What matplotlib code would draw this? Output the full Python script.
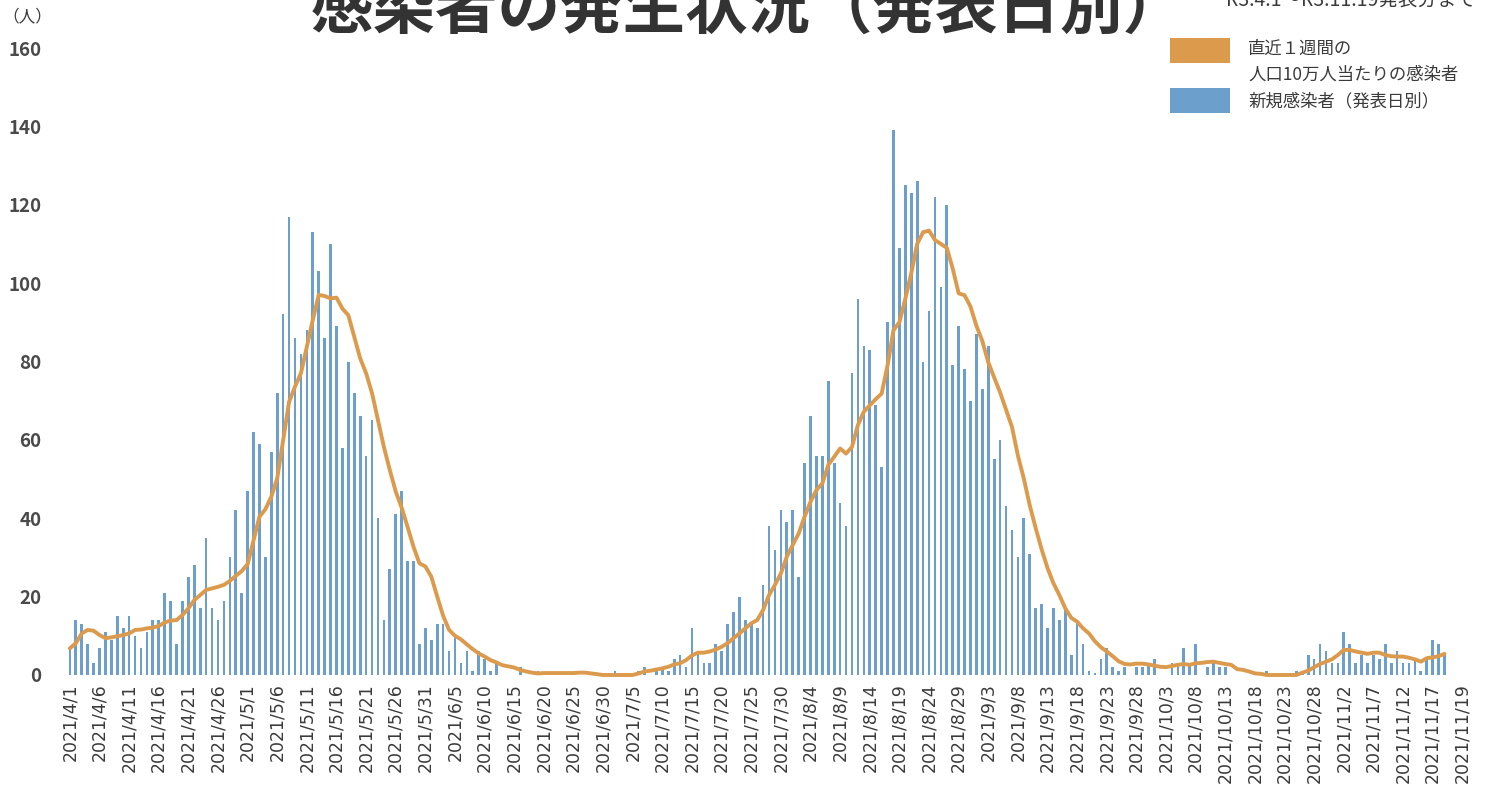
import numpy as np
import pandas as pd
import matplotlib
matplotlib.use("Agg")
import matplotlib.pyplot as plt
from matplotlib.patches import Rectangle

plt.rcParams['font.family'] = ['Noto Sans CJK JP', 'DejaVu Sans']

# Announcement dates, 2021/4/1 .. 2021/11/19
dates = pd.date_range("2021-04-01", "2021-11-19", freq="D")
date_labels = ["{}/{}/{}".format(d.year, d.month, d.day) for d in dates]

# New cases per announcement day
new_cases = [
    7, 14, 13, 8, 3, 7, 11, 9, 15, 12,
    15, 10, 7, 11, 14, 14, 21, 19, 8, 19,
    25, 28, 17, 35, 17, 14, 19, 30, 42, 21,
    47, 62, 59, 30, 57, 72, 92, 117, 86, 82,
    88, 113, 103, 86, 110, 89, 58, 80, 72, 66,
    56, 65, 40, 14, 27, 41, 47, 29, 29, 8,
    12, 9, 13, 13, 6, 10, 3, 6, 1, 6,
    4, 1, 3, 0, 0, 0, 2, 0, 0, 1,
    0, 0, 0, 0, 0, 0, 0, 0, 0, 0,
    0, 0, 1, 0, 0, 0, 1, 2, 0, 1,
    2, 1, 4, 5, 2, 12, 6, 3, 3, 8,
    6, 13, 16, 20, 14, 13, 12, 23, 38, 32,
    42, 39, 42, 25, 54, 66, 56, 56, 75, 54,
    44, 38, 77, 96, 84, 83, 69, 53, 90, 139,
    109, 125, 123, 126, 80, 93, 122, 99, 120, 79,
    89, 78, 70, 87, 73, 84, 55, 60, 43, 37,
    30, 40, 31, 17, 18, 12, 17, 14, 17, 5,
    14, 8, 1, 0.5, 4, 7, 2, 1, 2, 0,
    2, 2, 3, 4, 0, 0, 3, 3, 7, 3,
    8, 0, 2, 3, 2, 2, 0, 0, 0, 0,
    0, 0, 1, 0, 0, 0, 0, 1, 1, 5,
    4, 8, 6, 3, 3, 11, 8, 3, 5, 3,
    5, 4, 8, 3, 6, 3, 3, 4, 1, 4,
    9, 8, 5,
]

# Cases in the last week per 100k population
weekly_per_100k = [
    6.8, 8.1, 10.6, 11.5, 11.3, 10.2, 9.4, 9.6, 9.9, 10.2,
    10.6, 11.5, 11.6, 11.9, 12.1, 12.5, 13.4, 13.9, 14.0, 15.3,
    17.0, 19.1, 20.4, 21.7, 22.1, 22.5, 23.0, 24.0, 25.3, 26.5,
    28.3, 34.4, 40.4, 42.3, 45.5, 50.2, 59.9, 69.7, 73.6, 77.0,
    83.8, 90.6, 97.0, 96.7, 96.1, 96.3, 93.5, 91.8, 86.3, 80.8,
    77.0, 71.9, 65.0, 58.2, 52.3, 46.8, 42.7, 37.8, 32.7, 28.5,
    27.7, 25.1, 20.0, 15.1, 11.5, 10.0, 9.1, 7.8, 6.6, 5.5,
    4.7, 3.8, 3.2, 2.5, 2.2, 1.9, 1.3, 0.9, 0.6, 0.4,
    0.5, 0.5, 0.5, 0.5, 0.5, 0.5, 0.6, 0.6, 0.4, 0.2,
    0.0, 0.0, 0.0, 0.0, 0.0, 0.0, 0.4, 0.9, 1.1, 1.4,
    1.7, 2.1, 2.7, 3.0, 3.8, 5.0, 5.7, 5.7, 6.0, 6.5,
    7.2, 8.1, 9.4, 10.6, 11.9, 13.2, 14.0, 16.6, 20.4, 23.0,
    25.9, 30.2, 33.2, 36.1, 40.4, 44.2, 47.2, 48.9, 53.6, 55.7,
    57.8, 56.5, 58.2, 63.8, 67.2, 68.8, 70.4, 71.8, 79.0, 88.0,
    90.0, 96.0, 102.5, 110.0, 113.0, 113.4, 111.0, 110.0, 109.0, 103.7,
    97.4, 96.9, 94.0, 89.1, 85.2, 79.8, 75.9, 72.1, 67.7, 63.3,
    56.0, 50.1, 43.3, 37.5, 32.1, 27.3, 23.4, 20.4, 17.0, 14.6,
    13.6, 11.9, 10.6, 8.6, 7.1, 6.0, 4.8, 3.5, 2.8, 2.7,
    2.9, 2.9, 2.7, 2.4, 2.1, 2.0, 2.3, 2.6, 2.8, 2.6,
    3.0, 3.1, 3.3, 3.4, 3.1, 2.8, 2.6, 1.5, 1.3, 0.9,
    0.4, 0.3, 0.0, 0.0, 0.0, 0.0, 0.0, 0.0, 0.6, 1.1,
    2.0, 2.8, 3.4, 4.0, 5.1, 6.4, 6.4, 6.0, 5.7, 5.4,
    5.7, 5.7, 5.1, 4.8, 4.7, 4.7, 4.4, 4.0, 3.4, 4.3,
    4.5, 4.8, 5.4,
]

y_ticks = [0, 20, 40, 60, 80, 100, 120, 140, 160]

title = "感染者の発生状況（発表日別）"
period_note = "R3.4.1～R3.11.19発表分まで"
unit_label = "（人）"
legend_line = ["直近１週間の", "人口10万人当たりの感染者"]
legend_bar = "新規感染者（発表日別）"

BAR_COLOR = "#6c9fcb"
LINE_COLOR = "#dc9a4c"
TEXT_COLOR = "#3a3a3a"

W, H = 1494, 799
fig = plt.figure(figsize=(W / 100, H / 100), dpi=100)
fig.patch.set_facecolor("white")

# plot area in pixels: left 58, right 1470, y=0 at 675, y=160 at 48
ax = fig.add_axes([58 / W, (H - 675) / H, (1470 - 58) / W, (675 - 48) / H])

x = np.arange(len(dates))
ax.bar(x, new_cases, width=0.45, color=BAR_COLOR, linewidth=0, zorder=2)
ax.plot(x, weekly_per_100k, color=LINE_COLOR, linewidth=2.8,
        solid_joinstyle="round", solid_capstyle="round", zorder=3, clip_on=False)

ax.set_xlim(-2, 236.3)
ax.set_ylim(0, 160)

# tick every 5 days, final label sits one step after the last one
tick_pos = list(range(0, len(dates), 5))
tick_lab = [date_labels[i] for i in tick_pos]
tick_pos.append(tick_pos[-1] + 5)
tick_lab.append(date_labels[-1])
ax.set_xticks(tick_pos)
ax.set_xticklabels(tick_lab, rotation=90, fontsize=12.5, color=TEXT_COLOR,
                   family=["DejaVu Sans"])
ax.set_yticks(y_ticks)
ax.set_yticklabels([str(v) for v in y_ticks], fontsize=13.5, fontweight="bold",
                   color="#4a4a4a")
ax.tick_params(axis="both", length=0)
ax.tick_params(axis="x", pad=6)
ax.tick_params(axis="y", pad=12)
for s in ax.spines.values():
    s.set_visible(False)

# title and notes (cut by the top edge, as in the scan)
fig.text(748 / W, 1 - 29 / H, title, ha="center", va="baseline",
         fontsize=45, fontweight="bold", color="#333333")
fig.text(1476 / W, 1 - 6 / H, period_note, ha="right", va="baseline",
         fontsize=14, color=TEXT_COLOR)
fig.text(27 / W, 1 - 17 / H, unit_label, ha="center", va="center",
         fontsize=12, color=TEXT_COLOR)

# legend drawn by hand
fig.add_artist(Rectangle((1170 / W, 1 - 63 / H), 60 / W, 25 / H,
                         transform=fig.transFigure, color=LINE_COLOR, linewidth=0))
fig.add_artist(Rectangle((1170 / W, 1 - 113 / H), 60 / W, 25 / H,
                         transform=fig.transFigure, color=BAR_COLOR, linewidth=0))
fig.text(1248 / W, 1 - 49 / H, legend_line[0], ha="left", va="center",
         fontsize=12.5, color=TEXT_COLOR)
fig.text(1248 / W, 1 - 75 / H, legend_line[1], ha="left", va="center",
         fontsize=12.5, color=TEXT_COLOR)
fig.text(1248 / W, 1 - 101 / H, legend_bar, ha="left", va="center",
         fontsize=12.5, color=TEXT_COLOR)

fig.savefig("out.png", dpi=100)
